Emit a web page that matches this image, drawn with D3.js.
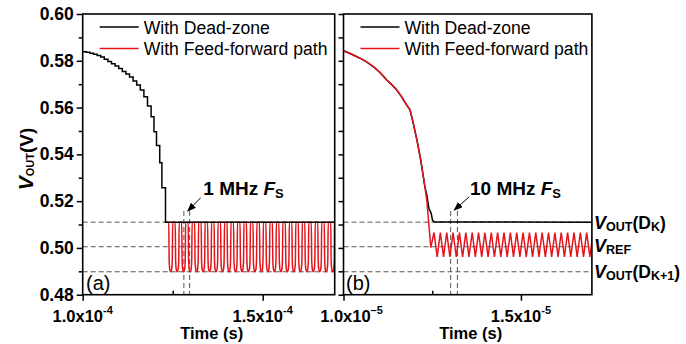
<!DOCTYPE html>
<html><head><meta charset="utf-8">
<script src="https://cdn.jsdelivr.net/npm/d3@7"></script>
<style>
html,body{margin:0;padding:0;background:#fff;}
svg{display:block;font-family:"Liberation Sans",Arial,Helvetica,sans-serif;}
</style></head><body>
<svg id="chart" width="686" height="344"></svg>
<script>
// ---- axis ticks (time in microseconds) ----
const yTicks = [0.48, 0.50, 0.52, 0.54, 0.56, 0.58, 0.60];
const yMinor = [0.49, 0.51, 0.53, 0.55, 0.57, 0.59];
const xTicksA = [100, 150];
const xMinorA = [125];
const xTickMantA = ["1.0x10", "1.5x10"];
const xTickExpA = ["-4", "-4"];
const xTicksB = [10, 15];
const xMinorB = [12.5];
const xTickMantB = ["1.0x10", "1.5x10"];
const xTickExpB = ["\u20135", "-5"];

// ---- reference levels (V) ----
const levelNames = ["DK", "REF", "DK1"];
const levelValues = [0.511, 0.5005, 0.4898];

// ---- (a) 1 MHz: dead-zone staircase (step start time, level) ----
const deadA_t = [100, 101, 102, 103, 104, 105, 106, 107, 108, 109, 110, 111, 112,
  113, 114, 115, 116, 117, 118, 119, 119.8, 120.5, 121.4, 122.0, 123.0, 170];
const deadA_v = [0.5839, 0.5836, 0.5832, 0.5828, 0.5823, 0.5816, 0.5807, 0.5797, 0.5787,
  0.5778, 0.5767, 0.5754, 0.5744, 0.5731, 0.5714, 0.5697, 0.5675, 0.5646, 0.5607,
  0.5561, 0.5497, 0.5438, 0.5364, 0.5257, 0.5110, 0.5110];

// ---- (a) feed-forward path: start of each dip (us), top / bottom level ----
const ffA_dips = [123.9, 125.7, 127.5, 129.3, 131.1, 132.9, 134.7, 136.5, 138.3, 140.1,
  141.9, 143.7, 145.5, 147.3, 149.1, 150.9, 152.7, 154.5, 156.3, 158.1, 159.9, 161.7,
  163.5, 165.3, 167.1, 168.9];
const ffA_hi = 0.511;
const ffA_lo = 0.4898;

// ---- (b) 10 MHz: common settling transient ----
const decayB_t = [10.00, 10.20, 10.465, 10.65, 10.84, 11.03, 11.218, 11.36, 11.50, 11.64,
  11.78, 11.874, 11.97, 12.07, 12.176, 12.29];
const decayB_v = [0.5843, 0.5830, 0.5811, 0.5795, 0.5775, 0.5750, 0.5718, 0.5698, 0.5675,
  0.5646, 0.5611, 0.5590, 0.5530, 0.5461, 0.5376, 0.5265];

// ---- (b) dead-zone tail ----
const deadB_t = [12.35, 12.41, 12.44, 12.47, 12.51, 12.56, 17.0];
const deadB_v = [0.5225, 0.5166, 0.5158, 0.5148, 0.5118, 0.5111, 0.5110];

// ---- (b) feed-forward ripple: entry, peaks and troughs ----
const ffB_entry_t = [12.35, 12.46];
const ffB_entry_v = [0.5200, 0.5001];
const ffB_peaks = [12.550, 12.729, 12.909, 13.088, 13.267, 13.447, 13.626, 13.805, 13.984,
  14.164, 14.343, 14.522, 14.702, 14.881, 15.060, 15.240, 15.419, 15.598, 15.777, 15.957,
  16.136, 16.315, 16.495, 16.674, 16.853, 17.032];
const ffB_troughs = [12.640, 12.819, 12.998, 13.178, 13.357, 13.536, 13.716, 13.895, 14.074,
  14.253, 14.433, 14.612, 14.791, 14.971, 15.150, 15.329, 15.508, 15.688, 15.867, 16.046,
  16.226, 16.405, 16.584, 16.764, 16.943];
const ffB_hi = 0.5066;
const ffB_lo = 0.4962;

// ---- sampling-instant markers ----
const markA = [128.1, 129.7];
const markB = [13.02, 13.21];
const markTop = 0.5158;

const legendLabels = ["With Dead-zone", "With Feed-forward path"];
const seriesColors = ["#000000", "#e4141b"];

// ================= drawing =================
const svg = d3.select("#chart");
svg.append("rect").attr("width", 686).attr("height", 344).attr("fill", "#fff");

const y = d3.scaleLinear().domain([0.48, 0.60]).range([294.7, 14]);
const xA = d3.scaleLinear().domain([100, 170]).range([82.7, 334.7]);
const xB = d3.scaleLinear().domain([10, 17]).range([343.5, 591.9]);

const defs = svg.append("defs");
defs.append("marker").attr("id", "arrow").attr("markerUnits", "userSpaceOnUse")
  .attr("markerWidth", 9).attr("markerHeight", 7).attr("refX", 8).attr("refY", 3.5)
  .attr("orient", "auto")
  .append("path").attr("d", "M0,0 L9,3.5 L0,7 Z").attr("fill", "#000");

function clipFor(id, x) {
  defs.append("clipPath").attr("id", id).append("rect")
    .attr("x", x.range()[0]).attr("y", y.range()[1])
    .attr("width", x.range()[1] - x.range()[0]).attr("height", y.range()[0] - y.range()[1]);
}
clipFor("clipA", xA);
clipFor("clipB", xB);

function levelLines(g, x) {
  g.selectAll("line.lvl").data(levelValues).join("line").attr("class", "lvl")
    .attr("x1", x.range()[0]).attr("x2", x.range()[1])
    .attr("y1", d => y(d)).attr("y2", d => y(d))
    .attr("stroke", "#555").attr("stroke-width", 1).attr("stroke-dasharray", "5,3");
}
function markLines(g, x, ts) {
  g.selectAll("line.mk").data(ts).join("line").attr("class", "mk")
    .attr("x1", d => x(d)).attr("x2", d => x(d))
    .attr("y1", y(markTop)).attr("y2", y(0.48))
    .attr("stroke", "#555").attr("stroke-width", 1).attr("stroke-dasharray", "5,3");
}

function axes(x, ticks, minor, mant, exps, showY, firstDx) {
  // y axis
  const yl = svg.append("g").attr("transform", `translate(${x.range()[0]},0)`);
  if (showY) {
    yl.call(d3.axisLeft(y).tickValues(yTicks).tickSize(6).tickPadding(3).tickFormat(d3.format(".2f")));
    yl.append("g").call(d3.axisLeft(y).tickValues(yMinor).tickSize(4).tickFormat(""));
  } else {
    yl.call(d3.axisLeft(y).tickValues(yTicks.concat(yMinor)).tickSize(5).tickFormat(""));
  }
  yl.selectAll(".domain").remove();
  yl.selectAll(".tick line").attr("stroke", "#000").attr("stroke-width", 1.5);
  yl.selectAll("text").attr("font-size", 17.5).attr("font-weight", "bold").attr("fill", "#000")
    .attr("font-family", "'Liberation Sans',Arial,sans-serif");

  // x axis
  const xl = svg.append("g").attr("transform", `translate(0,${y.range()[0]})`);
  xl.call(d3.axisBottom(x).tickValues(ticks).tickSize(6).tickFormat(""));
  xl.append("g").call(d3.axisBottom(x).tickValues(minor).tickSize(-4).tickFormat(""));
  xl.selectAll(".domain").remove();
  xl.selectAll(".tick line").attr("stroke", "#000").attr("stroke-width", 1.5);
  ticks.forEach((t, i) => {
    const tx = xl.append("text").attr("x", x(t) + (i === 0 ? firstDx : 0)).attr("y", 27)
      .attr("text-anchor", "middle").attr("font-weight", "bold").attr("fill", "#000");
    tx.append("tspan").attr("font-size", 16.5).text(mant[i]);
    tx.append("tspan").attr("font-size", 11).attr("dy", -7.5).text(exps[i]);
  });
  svg.append("text").attr("x", (x.range()[0] + x.range()[1]) / 2 + 3).attr("y", 339)
    .attr("text-anchor", "middle").attr("font-size", 16.5).attr("font-weight", "bold")
    .text("Time (s)");

  // frame
  svg.append("rect").attr("x", x.range()[0]).attr("y", y.range()[1])
    .attr("width", x.range()[1] - x.range()[0]).attr("height", y.range()[0] - y.range()[1])
    .attr("fill", "none").attr("stroke", "#000").attr("stroke-width", 1.6);
}

function legend(x) {
  const x0 = x.range()[0];
  const g = svg.append("g");
  [27, 48.5].forEach((ly, i) => {
    g.append("line").attr("x1", x0 + 17).attr("x2", x0 + 56).attr("y1", ly).attr("y2", ly)
      .attr("stroke", seriesColors[i]).attr("stroke-width", 1.5);
    g.append("text").attr("x", x0 + 61).attr("y", ly + 6.5).attr("font-size", 17.6)
      .attr("fill", "#000").text(legendLabels[i]);
  });
}

function arrowNote(x, t1, v1, t2, v2, tt, tv, label) {
  svg.append("line").attr("x1", x(t1)).attr("y1", y(v1)).attr("x2", x(t2)).attr("y2", y(v2))
    .attr("stroke", "#000").attr("stroke-width", 1).attr("marker-end", "url(#arrow)");
  const tx = svg.append("text").attr("x", x(tt)).attr("y", y(tv))
    .attr("font-weight", "bold").attr("font-size", 19).attr("fill", "#000");
  tx.append("tspan").text(label + " ");
  tx.append("tspan").attr("font-style", "italic").text("F");
  tx.append("tspan").attr("font-size", 13).attr("dy", 3).text("S");
}

const line = d3.line().x(d => d[0]).y(d => d[1]);

// ---------- panel (a) ----------
const gA = svg.append("g").attr("clip-path", "url(#clipA)");
levelLines(gA, xA);
markLines(gA, xA, markA);

// feed-forward dips: each sample pulls the output down to the lower level and back
const dipOffsets = [0, 0.12, 0.3, 0.55, 0.8, 0.98, 1.1];
const dipDepth = [1, 0.22, 0.045, 0, 0.045, 0.22, 1];
const redA = [[xA(123.0), y(ffA_hi)]];
ffA_dips.forEach(td => {
  dipOffsets.forEach((o, k) => {
    redA.push([xA(td + o), y(ffA_lo + dipDepth[k] * (ffA_hi - ffA_lo))]);
  });
});
redA.push([xA(170), y(ffA_hi)]);
gA.append("path").attr("d", line.curve(d3.curveMonotoneX)(redA))
  .attr("fill", "none").attr("stroke", seriesColors[1]).attr("stroke-width", 1.5);

const blackA = deadA_t.map((t, i) => [xA(t), y(deadA_v[i])]);
gA.append("path").attr("d", d3.line().curve(d3.curveStepAfter)(blackA))
  .attr("fill", "none").attr("stroke", seriesColors[0]).attr("stroke-width", 1.5);

// ---------- panel (b) ----------
const gB = svg.append("g").attr("clip-path", "url(#clipB)");
levelLines(gB, xB);
markLines(gB, xB, markB);

const decayB = decayB_t.map((t, i) => [t, decayB_v[i]]);
const blackB = decayB.concat(deadB_t.map((t, i) => [t, deadB_v[i]]));
gB.append("path").attr("d", d3.line().x(d => xB(d[0])).y(d => y(d[1]))(blackB))
  .attr("fill", "none").attr("stroke", seriesColors[0]).attr("stroke-width", 1.5);

const ripple = [];
ffB_peaks.forEach((t, i) => {
  ripple.push([t, ffB_hi]);
  if (i < ffB_troughs.length) ripple.push([ffB_troughs[i], ffB_lo]);
});
const redB = decayB.concat(ffB_entry_t.map((t, i) => [t, ffB_entry_v[i]]), ripple);
gB.append("path").attr("d", d3.line().x(d => xB(d[0])).y(d => y(d[1]))(redB))
  .attr("fill", "none").attr("stroke", seriesColors[1]).attr("stroke-width", 1.5);

// axes, frames, legends
axes(xA, xTicksA, xMinorA, xTickMantA, xTickExpA, true, 0);
axes(xB, xTicksB, xMinorB, xTickMantB, xTickExpB, false, 8);
legend(xA);
legend(xB);

// annotations
arrowNote(xA, 132.8, 0.5215, 129.2, 0.5158, 133.5, 0.5226, "1 MHz");
arrowNote(xB, 13.546, 0.5219, 13.123, 0.5162, 13.565, 0.5226, "10 MHz");

svg.append("text").attr("x", 86).attr("y", 290).attr("font-size", 20).text("(a)");
svg.append("text").attr("x", 346).attr("y", 290).attr("font-size", 20).text("(b)");

// y-axis title
const yt = svg.append("text").attr("transform", "translate(33,159) rotate(-90)")
  .attr("text-anchor", "middle").attr("font-weight", "bold").attr("fill", "#000");
yt.append("tspan").attr("font-style", "italic").attr("font-size", 21).text("V");
yt.append("tspan").attr("font-size", 11).attr("dy", 1).text("OUT");
yt.append("tspan").attr("font-size", 19).attr("dy", -1).text("(V)");

// level labels on the right
function levelLabel(v, sub, arg, argSub, dyBase) {
  const t = svg.append("text").attr("x", 594).attr("y", y(v) + dyBase)
    .attr("font-weight", "bold").attr("fill", "#000");
  t.append("tspan").attr("font-style", "italic").attr("font-size", 18).text("V");
  t.append("tspan").attr("font-size", 12.5).attr("dy", 2).text(sub);
  if (arg) {
    t.append("tspan").attr("font-size", 17.5).attr("dy", -2).text("(" + arg);
    t.append("tspan").attr("font-size", 12.5).attr("dy", 2).text(argSub);
    t.append("tspan").attr("font-size", 17.5).attr("dy", -2).text(")");
  }
}
levelLabel(levelValues[0], "OUT", "D", "K", 6.5);
levelLabel(levelValues[1], "REF", null, null, 5.5);
levelLabel(levelValues[2], "OUT", "D", "K+1", 6);
</script>
</body></html>
